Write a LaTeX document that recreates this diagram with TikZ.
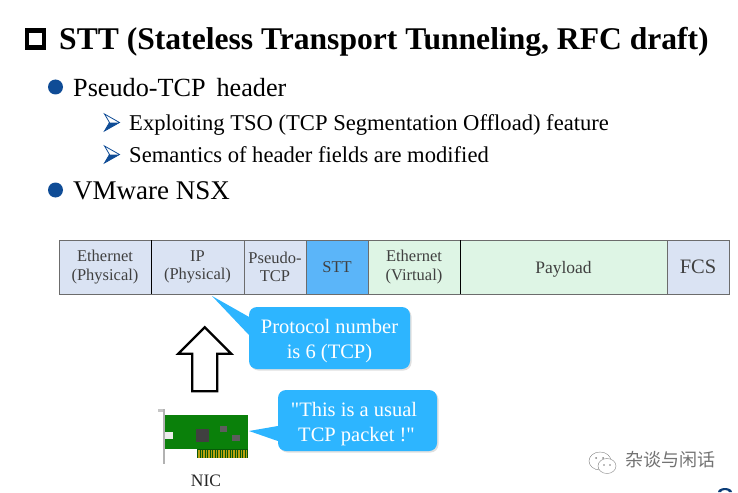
\documentclass[tikz,border=0pt]{standalone}
\usepackage{fontspec}
\setmainfont{Liberation Serif}
\newfontfamily\talkfont{Liberation Serif}
\newfontfamily\cjkfont{Noto Sans CJK SC}
\usetikzlibrary{arrows,positioning,shapes.arrows,shadows}
\definecolor{headblue}{HTML}{DAE3F3}
\definecolor{sttblue}{HTML}{5BB5F9}
\definecolor{virtgreen}{HTML}{DEF5E5}
\definecolor{calloutblue}{HTML}{2DB5FF}
\definecolor{bulletblue}{HTML}{0F4C96}
\definecolor{fieldtext}{HTML}{404040}
\definecolor{nicgreen}{HTML}{0A800A}
\definecolor{nicgold}{HTML}{B8A010}
\definecolor{chipgray}{HTML}{404040}
\begin{document}
\begin{tikzpicture}[x=1pt,y=-1pt,>=stealth',
    field node/.style={draw=gray!85!black,line width=1pt,outer sep=0pt,inner sep=0pt,
      minimum height=54pt,align=center,text=fieldtext,font=\fontsize{16.5}{18.5}\selectfont},
    head field/.style={field node,fill=headblue},
    virt field/.style={field node,fill=virtgreen},
    text line/.style={anchor=base west,inner sep=0pt},
    bullet node/.style={circle,fill=bulletblue,inner sep=0pt,minimum size=15pt},
    talk node/.style={rectangle,rounded corners=8pt,fill=calloutblue,text=white,align=center,
      inner sep=0pt,font=\talkfont\fontsize{20.5}{25}\selectfont,
      drop shadow={opacity=.25,shadow xshift=1.5pt,shadow yshift=-1.5pt}}]
  \useasboundingbox (0,0) rectangle (738,492);

  \node[draw,line width=4.5pt,minimum size=17pt,inner sep=0pt] (mark) at (35.5,39) {};
  \node[text line,font=\bfseries\fontsize{31.6}{34}\selectfont] (title) at (59,50) {STT (Stateless Transport Tunneling, RFC draft)};
  \node[bullet node] (dot1) at (55.5,87) {};
  \node[text line,font=\fontsize{26.2}{28}\selectfont] (pseudo) at (73,96) {Pseudo-TCP\, header};
  \node[text line,font=\fontsize{22.6}{24}\selectfont] (tso) at (129,130) {Exploiting TSO (TCP Segmentation Offload) feature};
  \node[text line,font=\fontsize{22.6}{24}\selectfont] (sem) at (129,162) {Semantics of header fields are modified};
  \foreach \y in {114,146} {
    \draw[bulletblue,line width=.8pt,fill=white,line join=miter] (104.5,\y) -- (119.5,\y+8.5) -- (104.5,\y+17) -- (109.5,\y+8.5) -- cycle;
    \fill[bulletblue] (109.5,\y+8.5) -- (119.5,\y+8.5) -- (104.5,\y+17) -- cycle;
  }
  \node[bullet node] (dot2) at (55.5,190) {};
  \node[text line,font=\fontsize{27}{28}\selectfont] (nsx) at (73,199) {VMware NSX};

  \node[head field,minimum width=92pt] (eth) at (105,267) {Ethernet\\(Physical)};
  \node[head field,minimum width=93pt,right=0pt of eth] (ip) {IP\\(Physical)};
  \node[head field,minimum width=62pt,right=0pt of ip] (pseudotcp) {Pseudo-\\TCP};
  \node[field node,fill=sttblue,minimum width=62pt,right=0pt of pseudotcp] (stt) {STT};
  \node[virt field,minimum width=92pt,right=0pt of stt] (ethv) {Ethernet\\(Virtual)};
  \node[virt field,minimum width=207pt,right=0pt of ethv,font=\fontsize{17.5}{20}\selectfont,text height=12pt,text depth=0pt] (payload) {Payload};
  \node[head field,minimum width=62pt,right=0pt of payload,font=\fontsize{20.5}{24}\selectfont] (fcs) {FCS};
  \draw[black,thin] (eth.north east) -- (eth.south east);
  \draw[black,thin] (ethv.north east) -- (ethv.south east);

  \coordinate (iptip) at (212,296);
  \coordinate (nictip) at (249,431);
  \node[talk node,minimum width=161pt,minimum height=62pt] (proto) at (329.5,338) {\rule{0pt}{20pt}Protocol number\\is 6 (TCP)};
  \node[talk node,minimum width=159pt,minimum height=61pt] (usual) at (357.5,420.5) {\rule{0pt}{22pt}"This is a usual\hspace*{7pt}\\TCP packet !"\hspace*{2pt}};
  \fill[calloutblue] (iptip) -- ([yshift=-10pt]proto.north west) -- ([yshift=-28pt]proto.north west) -- cycle;
  \fill[calloutblue] (nictip) -- ([yshift=-5.5pt]usual.west) -- ([yshift=-20.5pt]usual.west) -- cycle;

  \node[single arrow,draw,line width=2.4pt,fill=white,rotate=90,minimum height=64pt,text height=22.6pt,text depth=0pt,
    single arrow head extend=14pt,single arrow tip angle=90,inner sep=0pt,outer sep=0pt] (uparrow) at (204.7,365.5) {};

  \fill[gray!45] (158,409) rectangle (165,411.5);
  \fill[gray!60] (163,409) rectangle (165,464);
  \fill[nicgreen] (165,415) rectangle (248,449);
  \fill[white!85!gray] (165,432) rectangle (173,439);
  \fill[chipgray] (196,429) rectangle (209,442);
  \fill[chipgray!85] (220,426) rectangle (227,432);
  \fill[chipgray!85] (232,435) rectangle (240,441);
  \fill[nicgreen!70!black] (197,449) rectangle (248,458);
  \foreach \x in {198,200.5,...,246} {
    \fill[nicgold] (\x,450) rectangle +(1.5,7.5);
  }
  \node[font=\fontsize{17.5}{18}\selectfont,text=black!85,inner sep=0pt] (nic) at (206,481) {NIC};

  \draw[gray,line width=.4pt] (600,461) ellipse (11 and 9);
  \draw[gray,line width=.4pt,fill=white] (607,466) ellipse (9 and 7.5);
  \fill[gray] (596,458) circle (1) (603,458) circle (1) (604,465) circle (.8) (610,465) circle (.8);
  \node[anchor=west,inner sep=0pt,text=gray!90!black,font=\cjkfont\fontsize{18}{18}\selectfont] (mp) at (625,460) {杂谈与闲话};
  \fill[bulletblue!80!black] (718,492) arc (180:0:7pt and 4pt) -- (729,492) arc (0:180:4pt and 2pt) -- cycle;
\end{tikzpicture}
\end{document}
